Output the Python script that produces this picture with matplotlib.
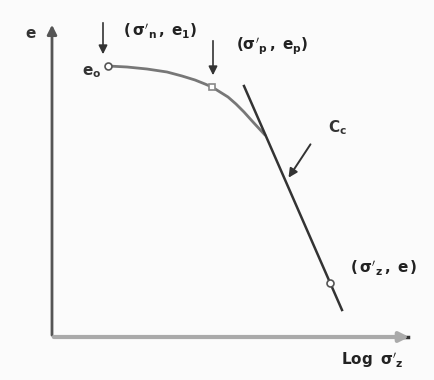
import matplotlib
matplotlib.use("Agg")
import matplotlib.pyplot as plt

plt.rcParams["mathtext.fontset"] = "dejavusans"
plt.rcParams["mathtext.default"] = "bf"

# schematic e - log(sigma'_z) compression curve (arbitrary units)
curve_log_s = [0.56, 0.75, 0.95, 1.15, 1.30, 1.43, 1.53, 1.60, 1.68, 1.76, 1.84, 1.92, 2.01, 2.13]
curve_e = [2.71, 2.70, 2.68, 2.65, 2.61, 2.57, 2.53, 2.50, 2.45, 2.40, 2.33, 2.25, 2.15, 2.02]
line_log_s = [1.92, 2.90]
line_e = [2.51, 0.27]
pt_e0 = (0.56, 2.71)
pt_p = (1.60, 2.50)
pt_z = (2.78, 0.54)

fig = plt.figure(figsize=(4.34, 3.80), dpi=100)
fig.patch.set_facecolor("#fbfbfb")
ax = fig.add_axes([0, 0, 1, 1])
ax.set_facecolor("#fbfbfb")
ax.set_xlim(-0.52, 3.82)
ax.set_ylim(-0.43, 3.37)
ax.axis("off")

# axes arrows
ax.annotate("", xy=(0, 3.15), xytext=(0, -0.01),
            arrowprops=dict(arrowstyle="-|>", color="#555555", lw=2, mutation_scale=14))
ax.annotate("", xy=(3.60, 0), xytext=(-0.01, 0),
            arrowprops=dict(arrowstyle="-|>", color="#aaaaaa", lw=3, mutation_scale=14))
ax.plot([3.44, 3.56], [0, 0], color="#333333", lw=2.5)

# curve and straight line
ax.plot(curve_log_s, curve_e, color="#777777", lw=2, solid_capstyle="round")
ax.plot(line_log_s, line_e, color="#333333", lw=1.8)

ax.plot(*pt_e0, marker="o", ms=5, mfc="white", mec="#555555", mew=1.2)
ax.plot(*pt_p, marker="s", ms=5, mfc="white", mec="#888888", mew=1.2)
ax.plot(*pt_z, marker="o", ms=5, mfc="white", mec="#555555", mew=1.2)

# arrows pointing to the points
ax.annotate("", xy=(0.51, 2.80), xytext=(0.51, 3.17),
            arrowprops=dict(arrowstyle="-|>", color="#333333", lw=1.2, mutation_scale=13))
ax.annotate("", xy=(1.61, 2.59), xytext=(1.61, 2.99),
            arrowprops=dict(arrowstyle="-|>", color="#333333", lw=1.2, mutation_scale=13))
ax.annotate("", xy=(2.35, 1.57), xytext=(2.60, 1.95),
            arrowprops=dict(arrowstyle="-|>", color="#333333", lw=1.4, mutation_scale=13))

# labels
fs = 11
ax.text(-0.21, 3.04, r"$e$", fontsize=fs, ha="center", va="center", color="#333333")
ax.text(0.40, 2.65, r"$e_o$", fontsize=fs, ha="center", va="center", color="#333333")
ax.text(1.08, 3.06, r"$(\,\sigma'_n\,,\;e_1)$", fontsize=fs, ha="center", va="center", color="#222222")
ax.text(2.20, 2.91, r"$(\sigma'_p\,,\;e_p)$", fontsize=fs, ha="center", va="center", color="#222222")
ax.text(2.85, 2.09, r"$C_c$", fontsize=fs, ha="center", va="center", color="#333333")
ax.text(3.32, 0.69, r"$(\,\sigma'_z\,,\;e\,)$", fontsize=fs, ha="center", va="center", color="#222222")
ax.text(3.20, -0.23, r"$Log\;\;\sigma'_z$", fontsize=fs, ha="center", va="center", color="#222222")

fig.savefig("out.png", dpi=100, facecolor=fig.get_facecolor())
